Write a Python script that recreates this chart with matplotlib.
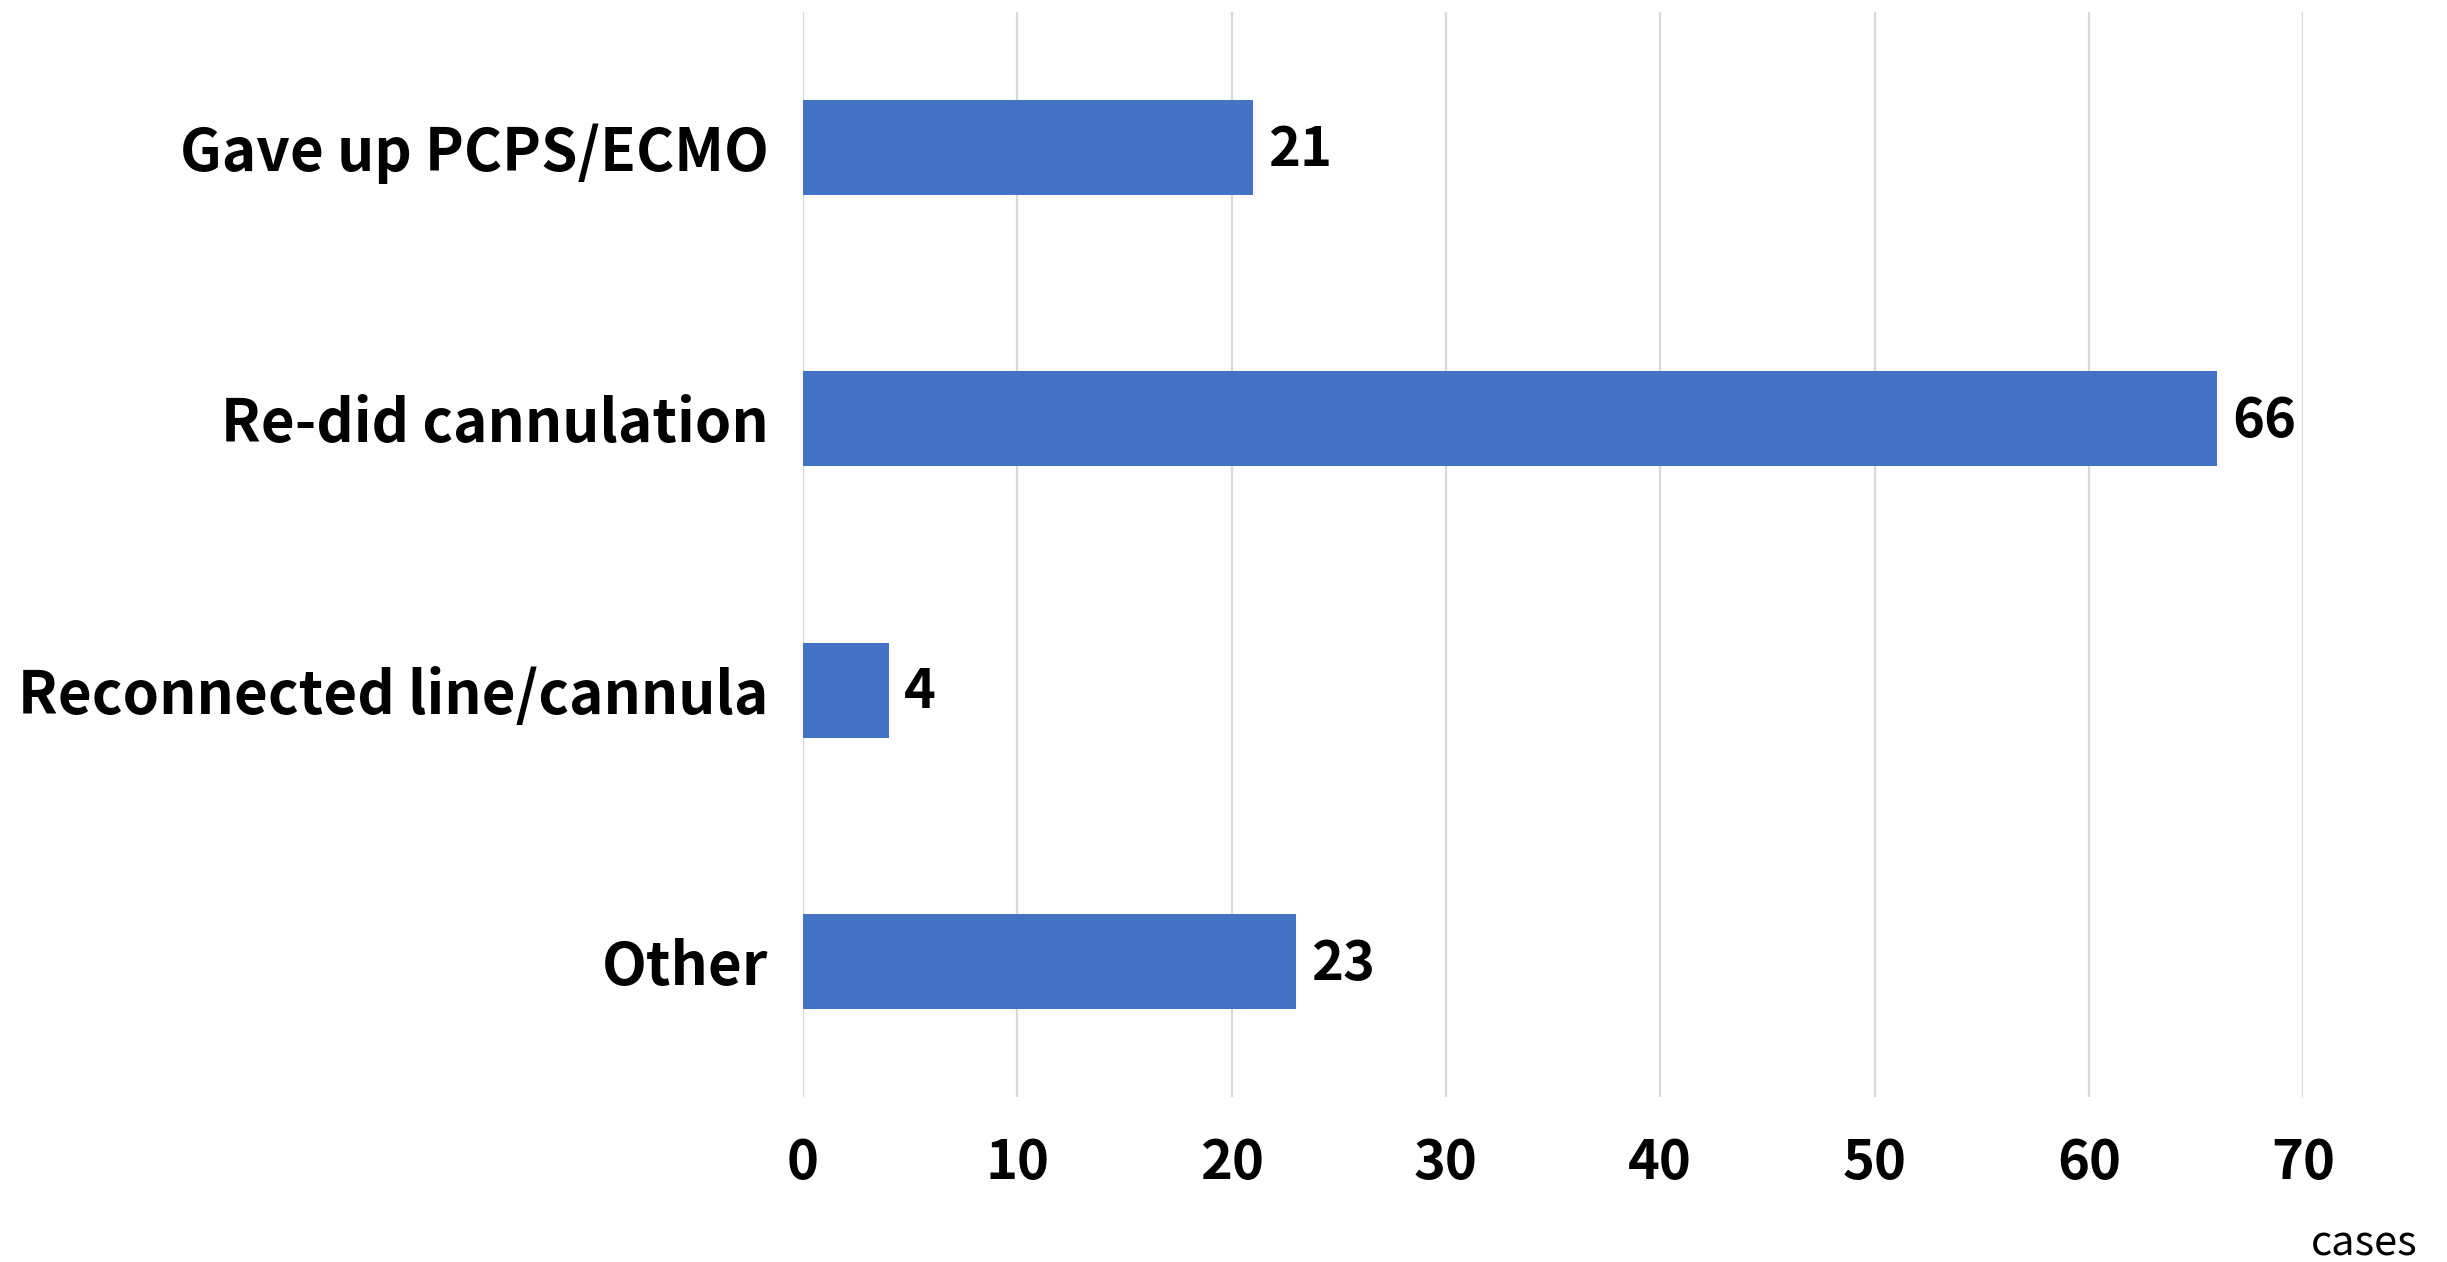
import matplotlib.pyplot as plt

categories = ['Gave up PCPS/ECMO', 'Re-did cannulation', 'Reconnected line/cannula', 'Other']
counts = [21, 66, 4, 23]
xticks = [0, 10, 20, 30, 40, 50, 60, 70]

plt.rcParams['font.family'] = ['Noto Sans CJK JP', 'DejaVu Sans']

fig = plt.figure(figsize=(24.47, 12.62), dpi=100)
ax = fig.add_axes([0.3282, 0.1307, 0.9412 - 0.3282, 0.9905 - 0.1307])

ypos = list(range(len(categories)))
bars = ax.barh(ypos, counts, height=0.35, color='#4472C4', zorder=3)
ax.set_ylim(len(categories) - 0.5, -0.5)
ax.set_xlim(0, 70)
ax.set_xticks(xticks)
ax.set_xticklabels([str(t) for t in xticks], fontsize=39, fontweight='bold')
ax.set_yticks(ypos)
ax.set_yticklabels(categories, fontsize=42, fontweight='bold')
ax.tick_params(axis='x', length=0, pad=28)
ax.tick_params(axis='y', length=0, pad=25)

ax.grid(axis='x', color='#D9D9D9', linewidth=1.6, zorder=0)
for s in ax.spines.values():
    s.set_visible(False)

# value labels at bar ends
for b, v in zip(bars, counts):
    ax.annotate(str(v), (b.get_width(), b.get_y() + b.get_height() / 2),
                xytext=(11, -2), textcoords='offset points',
                va='center', ha='left', fontsize=39, fontweight='bold')

fig.text(0.966, 0.0143, 'cases', ha='center', va='center', fontsize=30)

fig.savefig('out.png', dpi=100, facecolor='white')
